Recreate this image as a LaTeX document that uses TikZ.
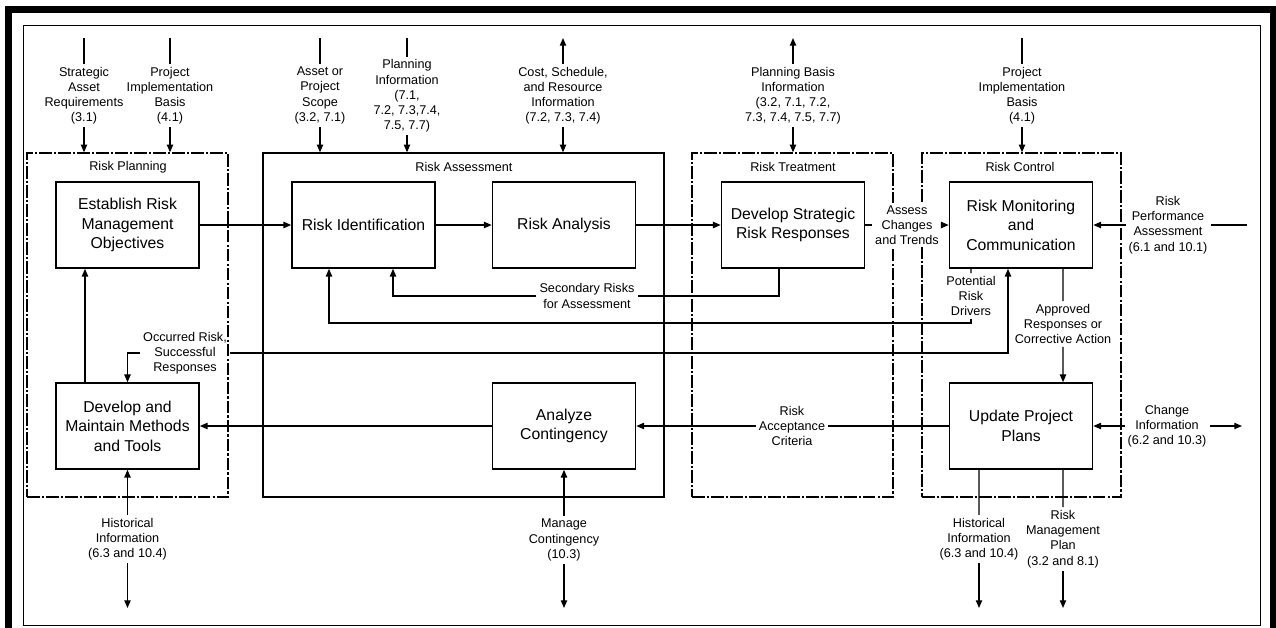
\documentclass[tikz,border=0pt]{standalone}
\usepackage{fontspec}
\setmainfont{Liberation Sans}
\usetikzlibrary{arrows.meta}

\begin{document}
\begin{tikzpicture}[
  x=0.025cm, y=-0.025cm,
  font=\fontsize{9}{10.8}\selectfont,
  >={Triangle[length=5.5pt,width=4.5pt]},
  proc/.style={draw=black, line width=1.1pt, align=center, minimum width=3.575cm, minimum height=2.15cm, inner sep=2pt, font=\fontsize{11.2}{13.8}\selectfont},
  grp/.style={draw=black, line width=0.9pt, minimum height=8.6cm, inner sep=0pt},
  dd/.style={grp, dash pattern=on 9pt off 1.5pt on 1.5pt off 1.5pt},
  ttl/.style={inner sep=1pt},
  lbl/.style={align=center, inner sep=2pt},
  ln/.style={line width=0.9pt},
  ar/.style={->, line width=0.9pt},
]
\useasboundingbox (0,0) rectangle (1276,627);
% frame
\draw[line width=5pt] (8.5,9.5) rectangle (1273.5,640);
\draw[line width=0.6pt] (23,25) rectangle (1260,625);

% process groups
\node[dd, minimum width=5.025cm] (gplan) at (127.5,325) {};
\node[grp, minimum width=10.025cm] (gassess) at (463.5,325) {};
\node[dd, minimum width=5.025cm] (gtreat) at (792.5,325) {};
\node[dd, minimum width=4.975cm] (gctrl) at (1021.5,325) {};
\node[ttl] (tplan) at (128,167) {Risk Planning};
\node[ttl] (tassess) at (464,167) {Risk Assessment};
\node[ttl] (ttreat) at (793,167) {Risk Treatment};
\node[ttl] (tctrl) at (1020,167) {Risk Control};

% activities
\node[proc] (estab) at (127.5,225) {Establish Risk\\Management\\Objectives};
\node[proc] (ident) at (363.5,225) {Risk Identification};
\node[proc] (anal) at (564,225) {Risk Analysis};
\node[proc] (resp) at (793,225) {Develop Strategic\\Risk Responses};
\node[proc] (monit) at (1021,225) {Risk Monitoring\\and\\Communication};
\node[proc] (devm) at (127.5,426) {Develop and\\Maintain Methods\\and Tools};
\node[proc] (anlz) at (564,426) {Analyze\\Contingency};
\node[proc] (upd) at (1021,426) {Update Project\\Plans};

% inputs and outputs, top
\node[lbl] (sar) at (84,95.5) {Strategic\\Asset\\Requirements\\(3.1)};
\node[lbl] (pib) at (170,95.5) {Project\\Implementation\\Basis\\(4.1)};
\node[lbl] (scp) at (320,95.5) {Asset or\\Project\\Scope\\(3.2, 7.1)};
\node[lbl] (pin) at (407,96) {Planning\\Information\\(7.1,\\7.2, 7.3,7.4,\\7.5, 7.7)};
\node[lbl] (csr) at (563,95.5) {Cost, Schedule,\\and Resource\\Information\\(7.2, 7.3, 7.4)};
\node[lbl] (pbi) at (793,95.5) {Planning Basis\\Information\\(3.2, 7.1, 7.2,\\7.3, 7.4, 7.5, 7.7)};
\node[lbl] (pib2) at (1022,95.5) {Project\\Implementation\\Basis\\(4.1)};
\coordinate (sar0) at (84,38);
\coordinate (pib0) at (170,38);
\coordinate (scp0) at (320,38);
\coordinate (pin0) at (407,38);
\coordinate (csr0) at (563,38);
\coordinate (pbi0) at (793,38);
\coordinate (pib20) at (1022,38);

% inputs and outputs, sides and bottom
\node[lbl] (rpa) at (1168,225) {Risk\\Performance\\Assessment\\(6.1 and 10.1)};
\node[lbl] (chg) at (1167,426) {Change\\Information\\(6.2 and 10.3)};
\node[lbl] (hi1) at (127.5,539) {Historical\\Information\\(6.3 and 10.4)};
\node[lbl] (mgc) at (564,540) {Manage\\Contingency\\(10.3)};
\node[lbl] (hi2) at (979,539) {Historical\\Information\\(6.3 and 10.4)};
\node[lbl] (rmp) at (1063,539) {Risk\\Management\\Plan\\(3.2 and 8.1)};
\coordinate (rpa0) at (1247,225);
\coordinate (chg0) at (1242,426);
\coordinate (hi10) at (127.5,608);
\coordinate (mgc0) at (564,608);
\coordinate (hi20) at (979,608);
\coordinate (rmp0) at (1063,608);

% flow labels
\node[lbl, fill=white] (acg) at (907,225) {Assess\\Changes\\and Trends};
\node[lbl] (sec) at (587,296) {Secondary Risks\\for Assessment};
\node[lbl] (drv) at (971,296) {Potential\\Risk\\Drivers};
\node[lbl] (occ) at (185,353) {Occurred Risk,\\Successful\\Responses};
\node[lbl] (apr) at (1063,324) {Approved\\Responses or\\Corrective Action};
\node[lbl] (rac) at (792,426) {Risk\\Acceptance\\Criteria};

% top arrows
\draw[ln] (sar0) -- (sar.north);
\draw[ar] (sar.south) -- (sar.south |- gplan.north);
\draw[ln] (pib0) -- (pib.north);
\draw[ar] (pib.south) -- (pib.south |- gplan.north);
\draw[ln] (scp0) -- (scp.north);
\draw[ar] (scp.south) -- (scp.south |- gassess.north);
\draw[ln] (pin0) -- (pin.north);
\draw[ar] (pin.south) -- (pin.south |- gassess.north);
\draw[ar] (csr.north) -- (csr0);
\draw[ar] (csr.south) -- (csr.south |- gassess.north);
\draw[ar] (pbi.north) -- (pbi0);
\draw[ar] (pbi.south) -- (pbi.south |- gtreat.north);
\draw[ln] (pib20) -- (pib2.north);
\draw[ar] (pib2.south) -- (pib2.south |- gctrl.north);

% main flow
\draw[ar] (estab.east) -- (ident.west);
\draw[ar] (ident.east) -- (anal.west);
\draw[ar] (anal.east) -- (resp.west);
\draw[ln] (resp.east) -- (acg.west);
\draw[ar] (acg.east) -- (monit.west);
\draw[ln] ([xshift=-0.35cm]resp.south) |- (sec.east);
\draw[ar] (sec.west) -| ([xshift=0.7375cm]ident.south);
\draw[ln] ([xshift=-1.25cm]monit.south) -- (drv.north);
\draw[ar] (drv.south) -- ([yshift=-0.1cm]drv.south) -| ([xshift=-0.8625cm]ident.south);
\draw[ar] (occ.east) -| ([xshift=-0.325cm]monit.south);
\draw[ar] (occ.west) -| (devm.north);
\draw[ar] ([xshift=-1.0625cm]devm.north) -- ([xshift=-1.0625cm]estab.south);
\draw[ln] ([xshift=1.05cm]monit.south) -- (apr.north);
\draw[ar] (apr.south) -- ([xshift=1.05cm]upd.north);
\draw[ln] (upd.west) -- (rac.east);
\draw[ar] (rac.west) -- (anlz.east);
\draw[ar] (anlz.west) -- (devm.east);

% side and bottom arrows
\draw[ln] (rpa0) -- (rpa.east);
\draw[ar] (rpa.west) -- (monit.east);
\draw[ar] (chg.west) -- (upd.east);
\draw[ar] (chg.east) -- (chg0);
\draw[ar] (hi1.north) -- (devm.south);
\draw[ar] (hi1.south) -- (hi10);
\draw[ar] (mgc.north) -- (anlz.south);
\draw[ar] (mgc.south) -- (mgc0);
\draw[ln] ([xshift=-1.05cm]upd.south) -- (hi2.north);
\draw[ar] (hi2.south) -- (hi20);
\draw[ln] ([xshift=1.05cm]upd.south) -- (rmp.north);
\draw[ar] (rmp.south) -- (rmp0);
\end{tikzpicture}
\end{document}
